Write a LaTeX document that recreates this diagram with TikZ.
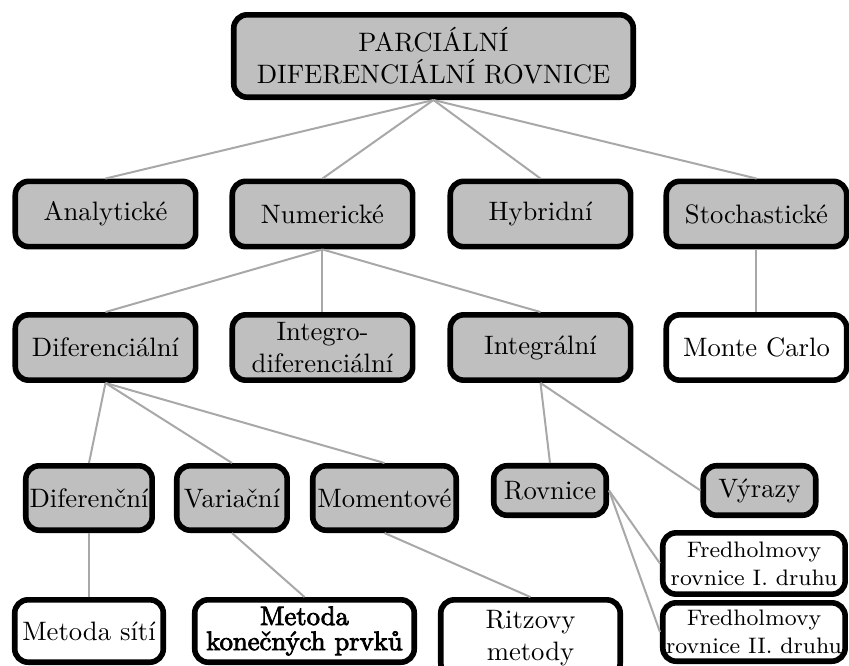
\documentclass[tikz,border=0pt]{standalone}
\usepackage{fontspec}
\newfontfamily\strongfont{lmroman10-regular}[Extension=.otf, FakeBold=3]
\usetikzlibrary{positioning}
\definecolor{boxgray}{gray}{0.75}
\definecolor{linkgray}{gray}{0.66}

\begin{document}
\begin{tikzpicture}[
        x=0.375pt, y=-0.375pt,
        category/.style={rectangle, draw, rounded corners=5pt, line width=2.1pt, align=center, inner xsep=1pt, inner ysep=1pt, fill=boxgray},
        method/.style={rectangle, draw, rounded corners=5pt, line width=2.1pt, align=center, inner xsep=1pt, inner ysep=1pt, fill=white},
        link/.style={draw, line width=0.75pt, linkgray},
        wide/.style={minimum width=67.65pt, minimum height=24.5pt}
        ]
        \useasboundingbox (0,0) rectangle (849,666);

        % Nodes
        \node (pde) [category, minimum width=149.8pt, minimum height=30.9pt] at (433.5,56) {PARCIÁLNÍ\\DIFERENCIÁLNÍ ROVNICE};

        \node (analyt) [category, wide] at (105.5,214) {Analytické};
        \node (numer) [category, wide] at (322.5,214) {Numerické};
        \node (hybrid) [category, wide] at (540.5,214) {Hybridní};
        \node (stoch) [category, wide] at (756.5,214) {Stochastické};

        \node (difer) [category, wide] at (105.5,347.5) {Diferenciální};
        \node (intdif) [category, wide] at (322.5,347.5) {Integro-\\diferenciální};
        \node (integr) [category, wide] at (540.5,347.5) {Integrální};
        \node (monte) [method, wide] at (756.5,347.5) {Monte Carlo};

        \node (difn) [category, minimum width=47.4pt, minimum height=24.15pt] at (89,498) {Diferenční};
        \node (varia) [category, minimum width=41.4pt, minimum height=24.15pt] at (232,498) {Variační};
        \node (moment) [category, minimum width=53.8pt, minimum height=24.15pt] at (384.5,498) {Momentové};
        \node (rovn) [category, minimum width=42.2pt, minimum height=18.55pt] at (550,490.5) {Rovnice};
        \node (vyraz) [category, minimum width=42.2pt, minimum height=18.55pt] at (759.5,490.5) {Výrazy};

        \node (site) [method, minimum width=55.7pt, minimum height=23.4pt] at (89,631) {Metoda sítí};
        \node (mkp) [method, minimum width=82.3pt, minimum height=23.4pt, font=\strongfont] at (304.5,631) {Metoda\\[-2.6pt]konečných prvků};
        \node (ritz) [method, minimum width=67.3pt, minimum height=28.6pt] at (530.5,638) {Ritzovy\\metody};
        \node (fred1) [method, minimum width=68.4pt, minimum height=23pt, font=\fontsize{8.4}{10.5}\selectfont] at (754,563.5) {Fredholmovy\\rovnice I. druhu};
        \node (fred2) [method, minimum width=68.4pt, minimum height=21.9pt, font=\fontsize{8.4}{10.5}\selectfont] at (754,632) {Fredholmovy\\rovnice II. druhu};

        % Edges
        \draw [link] (pde.south) -- (analyt.north);
        \draw [link] (pde.south) -- (numer.north);
        \draw [link] (pde.south) -- (hybrid.north);
        \draw [link] (pde.south) -- (stoch.north);

        \draw [link] (numer.south) -- (difer.north);
        \draw [link] (numer.south) -- (intdif.north);
        \draw [link] (numer.south) -- (integr.north);
        \draw [link] (stoch.south) -- (monte.north);

        \draw [link] (difer.south) -- (difn.north);
        \draw [link] (difer.south) -- (varia.north);
        \draw [link] (difer.south) -- (moment.north);
        \draw [link] (integr.south) -- (rovn.north);
        \draw [link] (integr.south) -- (vyraz.west);

        \draw [link] (difn.south) -- (site.north);
        \draw [link] (varia.south) -- (mkp.north);
        \draw [link] (moment.south) -- (ritz.north);
        \draw [link] (rovn.east) -- (fred1.west);
        \draw [link] (rovn.east) -- (fred2.west);

    \end{tikzpicture}
\end{document}
